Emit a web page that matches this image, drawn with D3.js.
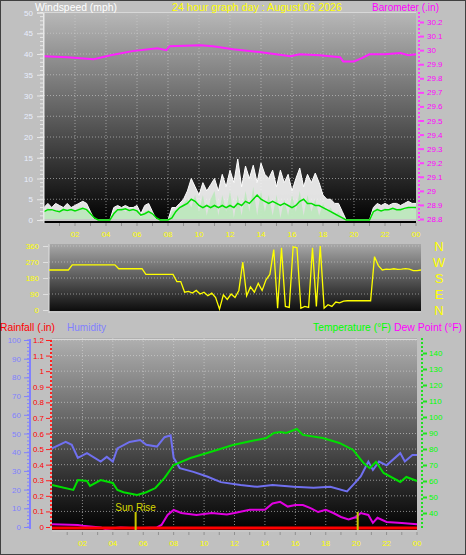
<!DOCTYPE html>
<html><head><meta charset="utf-8">
<script src="https://cdn.jsdelivr.net/npm/d3@7"></script>
<style>body{margin:0;background:#c0c0c0}svg{display:block}text{font-family:"Liberation Sans",Arial,sans-serif}</style>
</head><body>
<script>
// ---------- DATA ----------
const hourTicks = ["02","04","06","08","10","12","14","16","18","20","22","00"];
const hourTickValues = [2,4,6,8,10,12,14,16,18,20,22,24];
// 15-minute samples, hour 0 .. 24
const windGust = [3,4,3,4,3.5,3,4,3,3.5,4,4.5,4,2,0,0,0,0,0,3,3.5,3,3.5,3,3,3.5,1.5,3.5,4,2,0,0,0,0,3,3,4,5,7,10,8,6,9,7,8.5,10,7,11,8,12,9,14.7,8,13,10,13.2,9,13.7,11,10,12,8,12,9,11,7,10,12.5,8,11,9,11.3,9,6,5,5,4,4,2,0,0,0,0,0,0,0,3,4,3.5,4,3.5,4,4,3.5,4,4.5,4,4];
const windSpeed = [2,3,2,2.5,2,3,2,2.5,2,3,3,2.5,1,0,0,0,0,0,2,2.5,3,2,2.5,2,2.5,0.5,2,2.5,1,0,0,0,0,2,2.5,3,4,5,3,6,2,6,1,5,7,1,6,2,7,0.5,6,1,7,2,8,1,7,2,6,1,6,0.5,5,1,6,2,7,1,6,2,5,1,4,2,3,1,2,0.5,0,0,0,0,0,0,0,2,3,2,3,2,3,2.5,3,2.5,3,2.5,3];
const windAvg = [2,2.5,2.5,2.2,2,2.5,2.3,2.5,2.2,2.5,2.8,2.5,1.5,0.5,0,0,0,0,1.5,2.5,2.5,2.7,2.3,2.5,2.2,1.2,1.5,2,1.5,0.5,0,0,0,0.5,2,3,3.5,4,5,4.5,3.5,3,3.5,3,3.5,3,3.5,3,3.5,3,4,3.5,4.5,4,5,6,5,4.5,4,4.5,4,3.5,4,3.5,3,3.5,4.5,5,4,4,3.5,3.5,3,2.5,2,1.5,1,0.5,0,0,0,0,0,0,0,2,2.5,2.2,2.5,2.5,2.8,2.5,2.5,2.8,3,3,3];
const windDir = [225,225,225,225,225,225,254,254,254,254,254,254,254,254,254,254,254,254,232,232,232,232,232,232,232,200,200,200,200,200,200,200,200,160,160,100,105,95,110,90,100,80,95,70,5,85,60,90,70,110,270,80,130,100,150,110,170,200,340,10,350,20,15,355,350,10,20,15,350,20,360,10,30,20,45,40,50,52,52,52,52,52,52,52,300,250,225,230,228,232,228,230,233,230,222,222,225];
const baroHours = [0,1.5,3.2,4.3,5.7,7.3,7.9,8.1,10.1,10.9,12.2,13.9,15.9,16.5,17.8,19.1,19.3,20,20.5,21,22,23,23.5,24];
const baroInHg  = [29.957,29.95,29.936,29.964,29.993,30.014,30.0,30.028,30.035,30.028,30.007,29.986,29.957,29.97,29.964,29.95,29.92,29.92,29.943,29.97,29.97,29.98,29.964,29.97];
const tempHours = [0,1.4,1.7,2.3,2.5,3.2,4.0,4.3,4.7,5.6,6.2,6.8,7.4,8.0,9.1,10.2,11.9,12.8,14.1,14.6,15.0,15.4,16.1,16.5,17.8,18.9,19.8,20.5,20.9,21.3,21.8,22.9,23.3,24];
const tempF     = [57.5,54.4,60.6,60,56.9,60.6,58.8,54.4,53,51.3,53,55.6,62,70,74.4,77.5,82.5,84.4,86.9,90,90.6,90,92.5,88.8,86.9,83.8,79.4,71,68,72,65,59.4,62.5,60];
const humHours = [0,0.9,1.3,1.7,2.3,3.2,3.6,4.0,4.3,5.1,5.8,6.2,6.9,7.4,7.8,8.0,8.4,9.3,10.2,11.1,12.4,13.5,14.5,15.9,17.2,18.3,19.4,19.8,20.3,20.8,21.1,21.5,22.0,22.9,23.2,23.7,24];
const humPct   = [42,45.5,44,37,39.5,35,37.5,35,42,45.5,46.5,44,43,48,49,37,31.5,29.5,27,24,22.5,21.5,22.5,21.5,21,21.5,19,22.5,27,35,30.5,35,33,39.5,35,38.5,38.5];
const dewHours = [0,1.7,2,3.2,3.5,4.5,5.5,6.9,7.2,7.6,8,8.5,9.5,10.5,11.5,12,13,14,14.5,15,15.5,16,16.5,17,17.5,18,18.5,19,19.5,20,20.3,20.8,21.1,21.4,22,23,24];
const dewF     = [33,32.5,32,31,30,31,30.5,31,32.5,38.8,41.9,40,38.8,40,39,40,42,42,46,47,44,45,45,43,40.6,42,40,37.5,36,37.5,40,38.8,33.8,37,34.4,33.8,33];
const rainHours = [0,24];
const rainIn    = [0,0];
const sunEvents = [{label:"Sun Rise", hour:5.5},{label:"", hour:20.1}];
const windTicks = [0,5,10,15,20,25,30,35,40,45,50];
const baroTicks = [28.8,28.9,29,29.1,29.2,29.3,29.4,29.5,29.6,29.7,29.8,29.9,30,30.1,30.2];
const dirTicks = [360,270,180,90,0];
const dirLabels = ["N","W","S","E","N"];
const humTicks = [0,10,20,30,40,50,60,70,80,90,100];
const rainTicks = [0,0.1,0.2,0.3,0.4,0.5,0.6,0.7,0.8,0.9,1,1.1,1.2];
const tempTicks = [40,50,60,70,80,90,100,110,120,130,140];

// ---------- DRAW ----------
const W=466,H=555, TF=8;
const svg=d3.select("body").append("svg").attr("width",W).attr("height",H);
svg.append("rect").attr("x",0.5).attr("y",0.5).attr("width",W-1).attr("height",H-1).attr("fill","#c0c0c0").attr("stroke","#404040");
const defs=svg.append("defs");
function grad(id,top,bot){
  const g=defs.append("linearGradient").attr("id",id).attr("x1",0).attr("y1",0).attr("x2",0).attr("y2",1);
  g.append("stop").attr("offset","0%").attr("stop-color",top);
  g.append("stop").attr("offset","100%").attr("stop-color",bot);
}
grad("g1","#b8b8b8","#000000");
grad("g2","#a8a8a8","#080808");
grad("g3","#b0b0b0","#000000");
const idx = d3.range(windGust.length).map(i=>i*0.25);
function label(x,y,txt,color,len,anchor){
  svg.append("text").attr("x",x).attr("y",y).attr("fill",color).attr("font-size",11)
    .attr("text-anchor",anchor||"start").attr("textLength",len).attr("lengthAdjust","spacingAndGlyphs").text(txt);
}

// ===== TOP CHART =====
const x1=d3.scaleLinear([0,24],[44,416]);
const yW=d3.scaleLinear([0,50],[220,12.5]);
const yB=d3.scaleLinear([28.8,30.2],[219,22]);
svg.append("rect").attr("x",44).attr("y",12).attr("width",372).attr("height",211).attr("fill","url(#g1)");
const g1=svg.append("g");
g1.selectAll(".hg").data(windTicks.slice(1)).join("line").attr("x1",44).attr("x2",416).attr("y1",d=>yW(d)).attr("y2",d=>yW(d)).attr("stroke","#d0d0d0").attr("stroke-dasharray","1,2").attr("opacity",0.6);
g1.selectAll(".vg").data(hourTickValues.slice(0,-1)).join("line").attr("x1",d=>x1(d)).attr("x2",d=>x1(d)).attr("y1",12).attr("y2",222).attr("stroke","#d0d0d0").attr("stroke-dasharray","1,2").attr("opacity",0.6);
g1.append("path").datum(windGust).attr("d",d3.area().x((d,i)=>x1(idx[i])).y0(yW(0)).y1(d=>yW(d))).attr("fill","#f4f4f4").attr("opacity",0.92);
g1.append("path").datum(windGust).attr("d",d3.line().x((d,i)=>x1(idx[i])).y(d=>yW(d))).attr("fill","none").attr("stroke","#ffffff").attr("stroke-width",1);
g1.append("path").datum(windSpeed).attr("d",d3.area().x((d,i)=>x1(idx[i])).y0(yW(0)).y1(d=>yW(d))).attr("fill","#b8e8b8").attr("opacity",0.85);
g1.append("line").attr("x1",44).attr("x2",416).attr("y1",yW(0)).attr("y2",yW(0)).attr("stroke","#c8c8c8").attr("stroke-width",2);
g1.append("path").datum(windAvg).attr("d",d3.line().x((d,i)=>x1(idx[i])).y(d=>yW(d))).attr("fill","none").attr("stroke","#00e000").attr("stroke-width",1.5);
g1.append("path").datum(baroInHg).attr("d",d3.line().x((d,i)=>x1(baroHours[i])).y(d=>yB(d))).attr("fill","none").attr("stroke","#ff20ff").attr("stroke-width",2);
svg.append("line").attr("x1",44).attr("x2",44).attr("y1",12).attr("y2",223).attr("stroke","#e8e8e8");
svg.append("line").attr("x1",44).attr("x2",416).attr("y1",12.5).attr("y2",12.5).attr("stroke","#d8d8d8");
const axL=d3.axisLeft(yW).tickValues(windTicks).tickSize(6).tickPadding(4).tickFormat(d3.format("d"));
const gL=svg.append("g").attr("transform","translate(43,0)").call(axL);
gL.select(".domain").attr("stroke","#e8e8e8");
gL.selectAll("line").attr("stroke","#e8e8e8");
gL.selectAll("text").attr("fill","#e8eeff").attr("font-size",TF);
svg.append("g").selectAll("line").data(d3.range(0,51,1)).join("line").attr("x1",40).attr("x2",43).attr("y1",d=>yW(d)).attr("y2",d=>yW(d)).attr("stroke","#e8e8e8");
svg.append("line").attr("x1",419).attr("x2",419).attr("y1",12).attr("y2",221).attr("stroke","#ff40ff").attr("stroke-width",2).attr("stroke-dasharray","2,2");
const axB=d3.axisRight(yB).tickValues(baroTicks).tickSize(4).tickPadding(3).tickFormat(d=>String(+d.toFixed(1)));
const gB=svg.append("g").attr("transform","translate(420,0)").call(axB);
gB.select(".domain").remove();
gB.selectAll("line").attr("stroke","#ff40ff").attr("stroke-width",2);
gB.selectAll("text").attr("fill","#ff00ff").attr("font-size",TF);
svg.append("g").selectAll("line").data(d3.range(1,25)).join("line").attr("x1",d=>x1(d)).attr("x2",d=>x1(d)).attr("y1",223).attr("y2",226).attr("stroke","#909090");
svg.append("g").selectAll("text").data(hourTicks).join("text").attr("x",(d,i)=>x1(hourTickValues[i])).attr("y",237).attr("text-anchor","middle").attr("fill","#ffff00").attr("font-size",TF).text(d=>d);
label(35,11,"Windspeed (mph)","#ffffff",82);
label(172,11,"24 hour graph day : August 06 2026","#ffff00",170);
label(372,11,"Barometer (.in)","#ff00ff",67);

// ===== MIDDLE CHART =====
const x2=d3.scaleLinear([0,24],[49,421]);
const yD=d3.scaleLinear([0,360],[310,246]);
svg.append("rect").attr("x",49).attr("y",244).attr("width",372).attr("height",69).attr("fill","url(#g2)");
const g2=svg.append("g");
g2.selectAll("line").data(dirTicks.filter(d=>d>0)).join("line").attr("x1",49).attr("x2",421).attr("y1",d=>yD(d)).attr("y2",d=>yD(d)).attr("stroke","#d0d0d0").attr("stroke-dasharray","1,2").attr("opacity",0.6);
g2.append("line").attr("x1",49).attr("x2",421).attr("y1",312).attr("y2",312).attr("stroke","#c8c8c8").attr("stroke-width",2);
g2.append("line").attr("x1",49).attr("x2",49).attr("y1",244).attr("y2",313).attr("stroke","#e0e0e0");
g2.append("path").datum(windDir).attr("d",d3.line().x((d,i)=>x2(idx[i])).y(d=>yD(d))).attr("fill","none").attr("stroke","#ffff00").attr("stroke-width",1.3);
const axD=d3.axisLeft(yD).tickValues(dirTicks).tickSize(5).tickPadding(4);
const gD=svg.append("g").attr("transform","translate(48,0)").call(axD);
gD.select(".domain").remove();
gD.selectAll("line").attr("stroke","#e0e0e0");
gD.selectAll("text").attr("fill","#ffff00").attr("font-size",TF);
svg.append("g").selectAll("text").data(dirLabels).join("text").attr("x",439).attr("y",(d,i)=>yD(dirTicks[i])+5).attr("text-anchor","middle").attr("fill","#ffff00").attr("font-size",13).text(d=>d);

// ===== BOTTOM CHART =====
const x3=d3.scaleLinear([0,24],[52,417]);
const yT=d3.scaleLinear([40,140],[513,353]);
const yH=d3.scaleLinear([0,100],[527,340]);
const yR=d3.scaleLinear([0,1.2],[527,340]);
svg.append("rect").attr("x",52).attr("y",338).attr("width",365).attr("height",193).attr("fill","url(#g3)");
const g3=svg.append("g");
g3.selectAll(".h").data(rainTicks.slice(1)).join("line").attr("x1",52).attr("x2",417).attr("y1",d=>yR(d)).attr("y2",d=>yR(d)).attr("stroke","#d8d8d8").attr("stroke-dasharray","1,2").attr("opacity",0.6);
g3.selectAll(".v").data(hourTickValues.slice(0,-1)).join("line").attr("x1",d=>x3(d)).attr("x2",d=>x3(d)).attr("y1",338).attr("y2",531).attr("stroke","#d8d8d8").attr("stroke-dasharray","1,2").attr("opacity",0.6);
svg.append("line").attr("x1",52).attr("x2",417).attr("y1",339.5).attr("y2",339.5).attr("stroke","#d8d8d8");
svg.append("line").attr("x1",52).attr("x2",417).attr("y1",531).attr("y2",531).attr("stroke","#c8c8c8").attr("stroke-width",2);
g3.append("path").datum(humPct).attr("d",d3.line().x((d,i)=>x3(humHours[i])).y(d=>yH(d))).attr("fill","none").attr("stroke","#7070f0").attr("stroke-width",2);
g3.append("path").datum(tempF).attr("d",d3.line().x((d,i)=>x3(tempHours[i])).y(d=>yT(d))).attr("fill","none").attr("stroke","#00e000").attr("stroke-width",2);
g3.append("path").datum(dewF).attr("d",d3.line().x((d,i)=>x3(dewHours[i])).y(d=>yT(d))).attr("fill","none").attr("stroke","#e000e0").attr("stroke-width",2);
g3.append("path").datum(rainIn).attr("d",d3.line().x((d,i)=>x3(rainHours[i])).y(d=>yR(d)+1)).attr("fill","none").attr("stroke","#ff0000").attr("stroke-width",3);
const se=g3.selectAll(".sun").data(sunEvents).join("g");
se.append("line").attr("x1",d=>x3(d.hour)).attr("x2",d=>x3(d.hour)).attr("y1",512).attr("y2",530).attr("stroke","#c8c800").attr("stroke-width",2);
se.append("text").attr("x",d=>x3(d.hour)).attr("y",511).attr("text-anchor","middle").attr("fill","#d8d800").attr("font-size",10).text(d=>d.label);
svg.append("line").attr("x1",51).attr("x2",51).attr("y1",340).attr("y2",528).attr("stroke","#ff2020").attr("stroke-width",2).attr("stroke-dasharray","2,2");
const axR=d3.axisLeft(yR).tickValues(rainTicks).tickSize(4).tickPadding(2).tickFormat(d=>String(+d.toFixed(1)));
const gR=svg.append("g").attr("transform","translate(50,0)").call(axR);
gR.select(".domain").remove();
gR.selectAll("line").attr("stroke","#ff2020");
gR.selectAll("text").attr("fill","#ff0000").attr("font-size",TF);
svg.append("line").attr("x1",30).attr("x2",30).attr("y1",339).attr("y2",529).attr("stroke","#8080ff").attr("stroke-width",2);
svg.append("g").selectAll("line").data(d3.range(0,101,2)).join("line").attr("x1",27).attr("x2",30).attr("y1",d=>yH(d)).attr("y2",d=>yH(d)).attr("stroke","#8080ff");
const axH=d3.axisLeft(yH).tickValues(humTicks).tickSize(5).tickPadding(3);
const gH=svg.append("g").attr("transform","translate(29,0)").call(axH);
gH.select(".domain").remove();
gH.selectAll("line").attr("stroke","#8080ff");
gH.selectAll("text").attr("fill","#8080ff").attr("font-size",TF);
svg.append("line").attr("x1",422).attr("x2",422).attr("y1",338).attr("y2",530).attr("stroke","#20e020").attr("stroke-width",2).attr("stroke-dasharray","2,2");
const axT=d3.axisRight(yT).tickValues(tempTicks).tickSize(4).tickPadding(2);
const gT=svg.append("g").attr("transform","translate(423,0)").call(axT);
gT.select(".domain").remove();
gT.selectAll("line").attr("stroke","#20e020").attr("stroke-width",2);
gT.selectAll("text").attr("fill","#00ff00").attr("font-size",TF);
svg.append("g").selectAll("line").data(d3.range(1,25)).join("line").attr("x1",d=>x3(d)).attr("x2",d=>x3(d)).attr("y1",532).attr("y2",535).attr("stroke","#909090");
svg.append("g").selectAll("text").data(hourTicks).join("text").attr("x",(d,i)=>x3(hourTickValues[i])).attr("y",546).attr("text-anchor","middle").attr("fill","#ffff00").attr("font-size",TF).text(d=>d);
label(0,331,"Rainfall (.in)","#ff0000",55);
label(67,331,"Humidity","#8080ff",39);
label(313,331,"Temperature (°F)","#00ff00",78);
label(394,331,"Dew Point (°F)","#ff00ff",68);
</script>
</body></html>
